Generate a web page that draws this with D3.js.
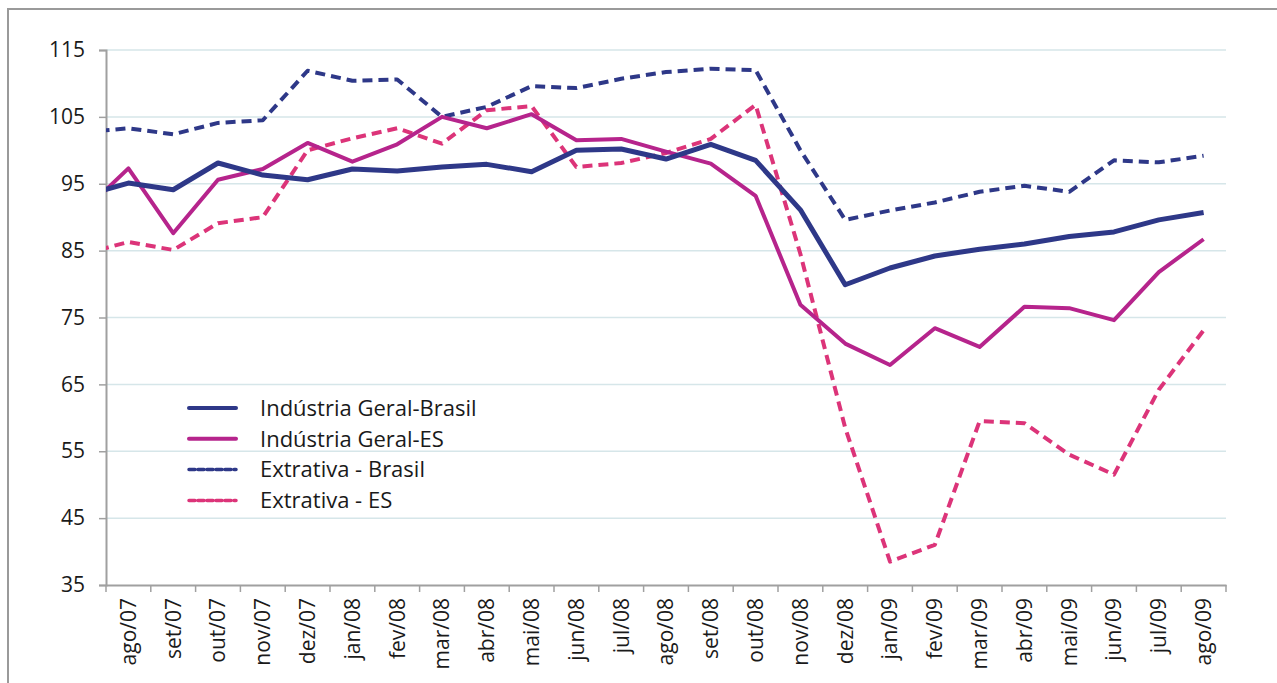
<!DOCTYPE html>
<html lang="pt">
<head>
<meta charset="UTF-8">
<title>Produção industrial - Brasil e ES</title>
<script src="https://d3js.org/d3.v7.min.js"></script>
<style>
  body { margin: 0; background: #fff; font-family: 'Open Sans', sans-serif; }
  svg text { fill: #1a1a1a; }
</style>
</head>
<body>
<svg id="chart" width="1277" height="683"></svg>
<script>
// meses exibidos no eixo
const months = ["ago/07","set/07","out/07","nov/07","dez/07","jan/08","fev/08","mar/08","abr/08","mai/08",
  "jun/08","jul/08","ago/08","set/08","out/08","nov/08","dez/08","jan/09","fev/09","mar/09",
  "abr/09","mai/09","jun/09","jul/09","ago/09"];
const yTicks = [35, 45, 55, 65, 75, 85, 95, 105, 115];

// jul/07 aparece só como início cortado da linha
const geralBrasil = [93.2, 95.1, 94.1, 98.1, 96.3, 95.6, 97.2, 96.9, 97.5, 97.9, 96.8,
  100.0, 100.2, 98.7, 100.9, 98.5, 91.1, 79.9, 82.4, 84.2, 85.2, 86.0, 87.1, 87.8, 89.6, 90.7];
const geralES = [90.9, 97.3, 87.6, 95.6, 97.2, 101.1, 98.3, 100.9, 105.0, 103.3, 105.4,
  101.5, 101.7, 99.8, 98.0, 93.2, 76.9, 71.1, 67.9, 73.4, 70.6, 76.6, 76.4, 74.6, 81.8, 86.7];
const extrativaBrasil = [102.7, 103.3, 102.4, 104.1, 104.5, 111.9, 110.4, 110.6, 105.0, 106.5, 109.6,
  109.3, 110.7, 111.7, 112.2, 112.0, 100.0, 89.6, 91.0, 92.2, 93.8, 94.7, 93.8, 98.5, 98.2, 99.2];
const extrativaES = [84.5, 86.3, 85.1, 89.1, 90.0, 100.0, 101.8, 103.3, 101.0, 106.0, 106.6,
  97.5, 98.1, 99.6, 101.7, 106.8, 84.5, 58.5, 38.5, 41.0, 59.5, 59.2, 54.5, 51.5, 64.2, 73.1];

const series = [
  { name: "Indústria Geral-Brasil", values: geralBrasil, color: "#2e3888", width: 5, dash: null },
  { name: "Indústria Geral-ES", values: geralES, color: "#b6248c", width: 4, dash: null },
  { name: "Extrativa - Brasil", values: extrativaBrasil, color: "#2e3888", width: 4, dash: "10,6" },
  { name: "Extrativa - ES", values: extrativaES, color: "#dc3479", width: 4, dash: "10,6" }
];

const margin = { top: 50, right: 51, bottom: 98, left: 106 };
const W = 1277, H = 683;
const font = "'Open Sans', sans-serif";
const svg = d3.select("#chart");

// moldura externa
svg.append("rect")
  .attr("x", 8).attr("y", 9).attr("width", W + 20).attr("height", H + 20)
  .attr("fill", "none").attr("stroke", "#9a9a9a").attr("stroke-width", 2);

const x = d3.scaleBand().domain(months).range([margin.left, W - margin.right]).padding(0);
const y = d3.scaleLinear().domain([35, 115]).range([H - margin.bottom, margin.top]);
const step = x.step();
const px = i => i === 0 ? x(months[0]) - step / 2 : x(months[i - 1]) + step / 2;

// grade
svg.append("g").selectAll("line")
  .data(yTicks.filter(t => t > 35))
  .enter().append("line")
  .attr("x1", margin.left).attr("x2", W - margin.right)
  .attr("y1", d => y(d)).attr("y2", d => y(d))
  .attr("stroke", "#d6e6e9").attr("stroke-width", 1.5);

// eixo Y
const yAxis = svg.append("g")
  .attr("transform", `translate(${margin.left},0)`)
  .call(d3.axisLeft(y).tickValues(yTicks).tickSize(7).tickPadding(14));
yAxis.select(".domain").attr("stroke", "#a0a0a0").attr("stroke-width", 2);
yAxis.selectAll(".tick line").attr("stroke", "#a0a0a0").attr("stroke-width", 1.5);
yAxis.selectAll("text").attr("font-size", 21).attr("font-family", font).attr("fill", "#1a1a1a");

// eixo X
const xAxis = svg.append("g")
  .attr("transform", `translate(0,${H - margin.bottom})`)
  .call(d3.axisBottom(x).tickSize(0).tickPadding(0));
xAxis.select(".domain").attr("stroke", "#a0a0a0").attr("stroke-width", 2);
xAxis.selectAll("text")
  .attr("font-size", 21).attr("font-family", font).attr("fill", "#1a1a1a")
  .attr("text-anchor", "end")
  .attr("transform", "translate(0,13) rotate(-90)")
  .attr("dx", 0).attr("dy", "0.35em").attr("y", 0).attr("x", 0);
svg.append("g").selectAll("line")
  .data(d3.range(months.length + 1))
  .enter().append("line")
  .attr("x1", i => margin.left + i * step).attr("x2", i => margin.left + i * step)
  .attr("y1", H - margin.bottom).attr("y2", H - margin.bottom + 7)
  .attr("stroke", "#a0a0a0").attr("stroke-width", 1.5);

// linhas
svg.append("clipPath").attr("id", "plotClip")
  .append("rect")
  .attr("x", margin.left).attr("y", 0)
  .attr("width", W - margin.right - margin.left).attr("height", H);

const line = d3.line().x((d, i) => px(i)).y(d => y(d));
svg.append("g").attr("clip-path", "url(#plotClip)")
  .selectAll("path")
  .data(series.slice().reverse())
  .enter().append("path")
  .attr("d", d => line(d.values))
  .attr("fill", "none")
  .attr("stroke", d => d.color)
  .attr("stroke-width", d => d.width)
  .attr("stroke-dasharray", d => d.dash)
  .attr("stroke-linejoin", "round");

// legenda
const legend = svg.append("g").attr("transform", "translate(189,408)");
series.forEach((s, i) => {
  const g = legend.append("g").attr("transform", `translate(0,${i * 30.8})`);
  g.append("line")
    .attr("x1", 0).attr("x2", 47).attr("y1", 0).attr("y2", 0)
    .attr("stroke", s.color)
    .attr("stroke-width", s.dash ? 3.5 : 4)
    .attr("stroke-dasharray", s.dash ? "6,3" : null)
    .attr("stroke-linecap", "round");
  g.append("text")
    .attr("x", 71).attr("y", 0).attr("dy", "0.35em")
    .attr("font-size", 22).attr("font-family", font)
    .text(s.name);
});
</script>
</body>
</html>
